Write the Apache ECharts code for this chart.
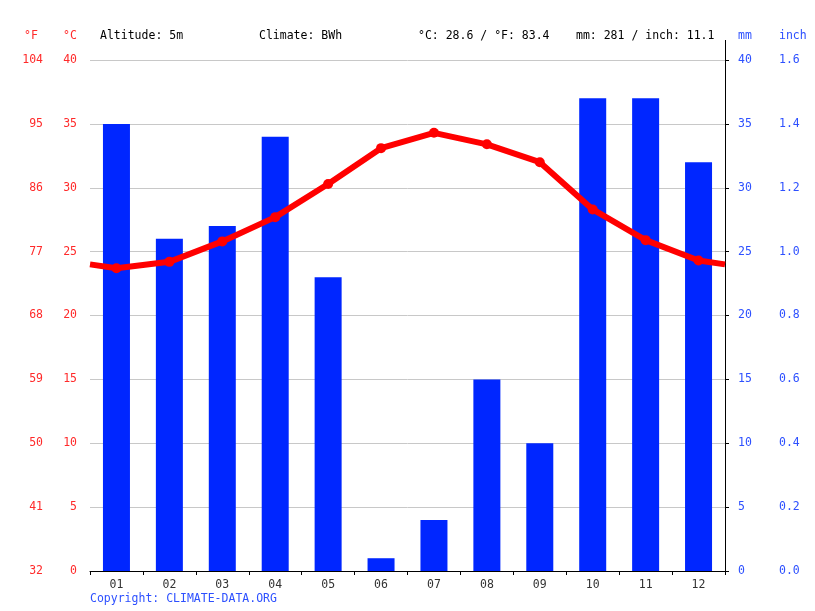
<!DOCTYPE html>
<html><head><meta charset="utf-8">
<script src="https://cdn.jsdelivr.net/npm/echarts@6/dist/echarts.min.js"></script>
<style>html,body{margin:0;padding:0;background:#fff}#c{width:815px;height:611px}</style>
</head><body><div id="c"></div>
<script>
const months = ['01','02','03','04','05','06','07','08','09','10','11','12'];
const precipMm = [35, 26, 27, 34, 23, 1, 4, 15, 10, 37, 37, 32];
const tempC = [23.7, 24.2, 25.8, 27.7, 30.3, 33.1, 34.3, 33.4, 32.0, 28.3, 25.9, 24.3];
const headerTexts = ['Altitude: 5m', 'Climate: BWh', '°C: 28.6 / °F: 83.4', 'mm: 281 / inch: 11.1'];

const FONT = 'DejaVu Sans Mono';
const RED = '#ff2a2a';
const BLUE = '#2d50ff';

const edge = (tempC[0] + tempC[11]) / 2;
const lineData = [{value: [0, edge], symbol: 'none'}]
  .concat(tempC.map((v, i) => ({value: [i + 0.5, v]})))
  .concat([{value: [12, edge], symbol: 'none'}]);

const chart = echarts.init(document.getElementById('c'), null, {renderer: 'canvas'});
const lbl = (color, extra) => Object.assign({color: color, fontFamily: FONT, fontSize: 11.5}, extra || {});
chart.setOption({
  animation: false,
  backgroundColor: '#fff',
  grid: {left: 90, right: 90, top: 60, bottom: 40, containLabel: false},
  xAxis: [
    {type: 'category', data: months, boundaryGap: true,
     axisLine: {show: true, lineStyle: {color: '#000', width: 1}},
     axisTick: {show: true, length: 4, lineStyle: {color: '#000'}},
     axisLabel: lbl('#333', {margin: 8}),
     splitLine: {show: false}},
    {type: 'value', min: 0, max: 12, show: false}
  ],
  yAxis: [
    {type: 'value', min: 0, max: 40, interval: 5, position: 'left',
     axisLine: {show: false}, axisTick: {show: false},
     axisLabel: lbl(RED, {margin: 13}),
     splitLine: {show: true, lineStyle: {color: '#c8c8c8', width: 1}}},
    {type: 'value', min: 32, max: 104, interval: 9, position: 'left',
     axisLine: {show: false}, axisTick: {show: false},
     axisLabel: lbl(RED, {margin: 47}), splitLine: {show: false}},
    {type: 'value', min: 0, max: 40, interval: 5, position: 'right',
     axisLine: {show: true, lineStyle: {color: '#000'}},
     axisTick: {show: true, length: 4, lineStyle: {color: '#000'}},
     axisLabel: lbl(BLUE, {margin: 13}), splitLine: {show: false}},
    {type: 'value', min: 0, max: 1.6, interval: 0.2, position: 'right',
     axisLine: {show: false}, axisTick: {show: false},
     axisLabel: lbl(BLUE, {margin: 54, formatter: v => v.toFixed(1)}), splitLine: {show: false}}
  ],
  series: [
    {type: 'bar', data: precipMm, xAxisIndex: 0, yAxisIndex: 2, barWidth: 27,
     itemStyle: {color: '#0026ff'}, z: 2},
    {type: 'line', data: lineData, xAxisIndex: 1, yAxisIndex: 0,
     symbol: 'circle', symbolSize: 10, showAllSymbol: true,
     lineStyle: {color: '#ff0000', width: 6}, itemStyle: {color: '#ff0000'}, z: 3}
  ],
  graphic: [
    {type: 'text', left: 24, top: 30, style: {text: '°F', fill: RED, font: '11.5px ' + FONT}},
    {type: 'text', left: 63, top: 30, style: {text: '°C', fill: RED, font: '11.5px ' + FONT}},
    {type: 'text', left: 100, top: 30, style: {text: headerTexts[0], fill: '#000', font: '11.5px ' + FONT}},
    {type: 'text', left: 259, top: 30, style: {text: headerTexts[1], fill: '#000', font: '11.5px ' + FONT}},
    {type: 'text', left: 418, top: 30, style: {text: headerTexts[2], fill: '#000', font: '11.5px ' + FONT}},
    {type: 'text', left: 576, top: 30, style: {text: headerTexts[3], fill: '#000', font: '11.5px ' + FONT}},
    {type: 'text', left: 738, top: 30, style: {text: 'mm', fill: BLUE, font: '11.5px ' + FONT}},
    {type: 'text', left: 779, top: 30, style: {text: 'inch', fill: BLUE, font: '11.5px ' + FONT}},
    {type: 'text', left: 90, top: 593, style: {text: 'Copyright: CLIMATE-DATA.ORG', fill: BLUE, font: '11.5px ' + FONT}},
    {type: 'line', shape: {x1: 725.5, y1: 40, x2: 725.5, y2: 60}, style: {stroke: '#000', lineWidth: 1}}
  ]
});
</script></body></html>
